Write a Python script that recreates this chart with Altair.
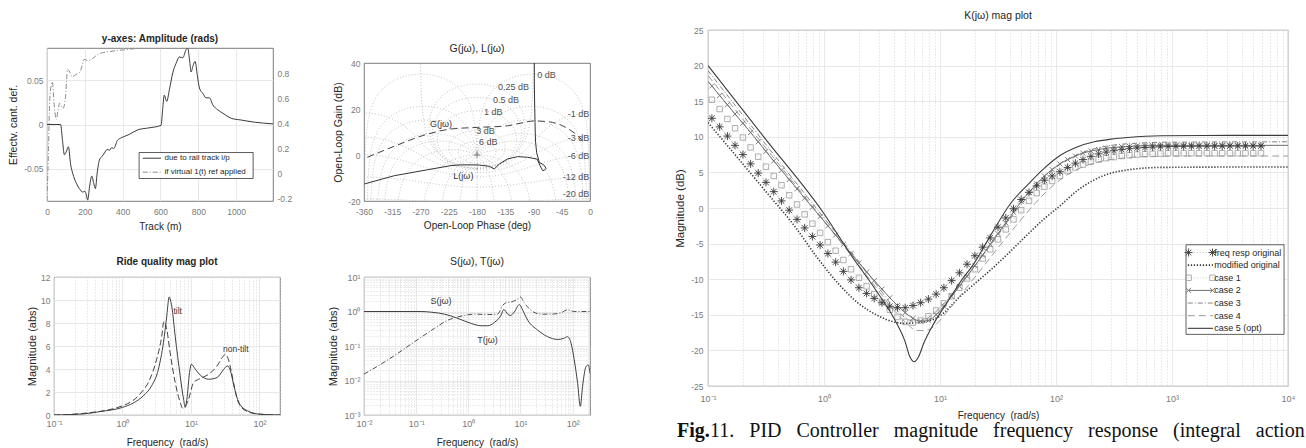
import altair as alt
import numpy as np
import pandas as pd

# ======================= DATA =======================
# -- Panel A: "y-axes: Amplitude (rads)" --
rail_track_m = [0, 72, 82, 92, 103, 113, 125, 136, 155, 171, 189, 200, 208, 215, 225, 237, 247, 256, 265, 277,
                290, 304, 318, 330, 342, 353, 372, 392, 414, 436, 480, 533, 603, 612, 620, 633, 647, 665, 683,
                700, 718, 735, 744, 755, 762, 772, 783, 795, 806, 824, 841, 859, 877, 903, 930, 974, 1027,
                1098, 1195]
rail_effect_cant = [0, 0, -0.018, -0.034, -0.030, -0.025, -0.045, -0.055, -0.066, -0.072, -0.076, -0.075, -0.079,
                    -0.085, -0.070, -0.058, -0.066, -0.072, -0.055, -0.040, -0.036, -0.032, -0.028, -0.029,
                    -0.026, -0.027, -0.018, -0.015, -0.013, -0.011, -0.006, -0.004, -0.001, 0.018, 0.033,
                    0.026, 0.039, 0.058, 0.069, 0.076, 0.075, 0.084, 0.086, 0.070, 0.059, 0.066, 0.071, 0.055,
                    0.041, 0.035, 0.030, 0.030, 0.022, 0.0165, 0.0127, 0.007, 0.005, 0.0026, 0.0007]
virtual_track_m = [0, 8, 14, 22, 28, 38, 49, 58, 67, 76, 85, 97, 104, 108, 120, 132, 145, 155, 170, 182, 196,
                   213, 235, 270, 323, 376, 464, 500, 1195]
virtual_ref_resp = [-0.22, 0.2, 0.57, 0.70, 0.73, 0.55, 0.43, 0.50, 0.56, 0.53, 0.52, 0.60, 0.75, 0.83, 0.81,
                    0.77, 0.78, 0.79, 0.80, 0.84, 0.91, 0.90, 0.91, 0.95, 0.97, 0.98, 0.995, 1.0, 1.0]
panelA_legend = ["due to rail track i/p", "if virtual 1(t) ref applied"]

# -- Panel B: Nichols "G(jω), L(jω)" --
L_phase_deg = [-88.7, -88.7, -87.6, -86.8, -85.0, -80.7, -73.7, -70.0, -72.5, -75.3, -79.6, -84.0, -99.2,
               -115.2, -131.1, -144.4, -152.4, -160.4, -178.9, -205.5, -221.4, -258.5, -311.7, -359.5]
L_gain_db = [45.0, 30.0, 14.2, 6.0, 1.0, -3.2, -4.3, -5.8, -6.6, -6.8, -4.6, -1.8, -1.0, -0.7, -1.7, -3.9,
             -6.1, -4.9, -4.3, -4.3, -4.6, -6.4, -9.0, -12.6]
G_phase_deg = [-354.6, -311.7, -258.5, -221.4, -178.9, -131.1, -109.9, -88.7, -67.5, -46.2, -30.3, -14.3, -9.1]
G_gain_db = [-1.0, 3.8, 9.1, 11.3, 12.0, 12.7, 13.9, 14.8, 14.5, 13.0, 10.6, 6.9, 4.8]
ngrid_mag_db = [6, 3, 1, 0.5, 0.25, 0, -1, -3, -6, -12, -20]
ngrid_cl_phase_deg = [1, 5, 10, 20, 30, 50, 90, 120, 150]
ngrid_label_text = ["0 dB", "0.25 dB", "0.5 dB", "1 dB", "3 dB", "6 dB",
                    "-1 dB", "-3 dB", "-6 dB", "-12 dB", "-20 dB"]
ngrid_label_phase = [-84, -97, -113, -139.5, -151.8, -147.5, -1, -1, -1, -1, -1]
ngrid_label_gain = [34.9, 29.5, 24.1, 18.9, 10.6, 5.6, 17.9, 7.3, -0.5, -9.7, -16.9]
nichols_curve_labels = ["G(jω)", "L(jω)"]
nichols_curve_label_phase = [-237.3, -201.7]
nichols_curve_label_gain = [13.6, -9.3]

# -- Panel C: "Ride quality mag plot" --
tilt_freq = [0.1, 0.264, 0.465, 1.0, 1.436, 2.014, 2.667, 3.35, 3.963, 4.436, 4.656, 4.797, 5.012, 5.248,
             5.888, 6.966, 7.798, 8.26, 8.73, 9.55, 10.12, 11.59, 13.71, 18.2, 24.1, 30.2, 33.9, 37.8, 42.4,
             50.1, 66.7, 104.7, 200]
tilt_mag = [0.0, 0.09, 0.29, 0.66, 1.04, 1.67, 2.54, 3.98, 6.29, 8.6, 9.8, 10.27, 10.0, 9.46, 6.86, 3.4,
            1.38, 0.66, 1.38, 3.69, 4.41, 3.98, 3.46, 3.11, 3.26, 3.98, 4.27, 3.84, 2.54, 1.1, 0.37, 0.06, 0.0]
nontilt_freq = [0.1, 0.264, 1.0, 1.80, 2.52, 3.16, 3.75, 4.03, 4.44, 4.97, 5.89, 6.97, 7.62, 8.36, 9.25,
                10.96, 13.7, 18.2, 24.1, 28.6, 32.0, 35.8, 40.1, 47.4, 59.6, 93.3, 200]
nontilt_mag = [0.0, 0.14, 0.8, 1.82, 3.12, 4.85, 6.86, 8.15, 7.44, 5.42, 2.83, 1.1, 0.58, 0.81, 1.38, 2.83,
               3.17, 3.55, 4.27, 4.99, 5.28, 4.7, 3.4, 1.38, 0.46, 0.09, 0.0]
ride_labels = ["tilt", "non-tilt"]
ride_label_freq = [5.56, 29.5]
ride_label_mag = [9.03, 5.77]

# -- Panel D: "S(jω), T(jω)" --
S_freq = [0.01, 0.125, 0.195, 0.349, 0.631, 1.132, 1.758, 2.355, 3.162, 4.236, 4.775, 5.689, 6.397, 7.638,
          9.528, 11.02, 13.74, 21.38, 33.11, 51.29, 67.14, 79.43, 93.3, 107.2, 124.5, 140.3, 154.9, 179.9,
          199.5, 215]
S_mag = [1.0, 1.0, 0.955, 0.838, 0.631, 0.451, 0.386, 0.386, 0.482, 0.783, 1.143, 0.838, 0.767, 0.977,
         1.585, 1.091, 0.562, 0.288, 0.186, 0.155, 0.166, 0.186, 0.120, 0.0398, 0.0083, 0.00178, 0.00676,
         0.0251, 0.0282, 0.0162]
T_freq = [0.01, 0.0288, 0.0933, 0.224, 0.407, 0.724, 1.309, 2.344, 3.631, 4.571, 5.248, 6.607, 8.222, 9.954,
          11.86, 15.85, 24.55, 38.02, 59.7, 79.4, 107.2, 215]
T_mag = [0.0153, 0.0398, 0.133, 0.324, 0.562, 0.733, 0.838, 0.818, 0.838, 1.514, 1.778, 1.905, 2.138, 2.63,
         1.778, 1.091, 0.838, 0.838, 0.916, 1.122, 1.0, 1.0]
ST_labels = ["S(jω)", "T(jω)"]
ST_label_freq = [0.30, 2.34]
ST_label_mag = [2.03, 0.149]

# -- Panel E: "K(jω) mag plot" --
marker_freq = [0.108, 0.126, 0.147, 0.171, 0.200, 0.233, 0.271, 0.316, 0.369, 0.430,
               0.501, 0.585, 0.681, 0.794, 0.926, 1.08, 1.26, 1.47, 1.71, 2.00,
               2.33, 2.71, 3.16, 3.69, 4.30, 5.01, 5.85, 6.81, 7.94, 9.26,
               10.8, 12.6, 14.7, 17.1, 20.0, 23.3, 27.1, 31.6, 36.9, 43.0,
               50.1, 58.5, 68.1, 79.4, 92.6, 108, 126, 147, 171, 200,
               233, 271, 316, 369, 430, 501, 585, 681, 794, 926,
               1080, 1260, 1470, 1710, 2000, 2330, 2710, 3160, 3690, 4300,
               5010, 5850]
orig_db = [12.6, 11.4, 10.1, 8.8, 7.5, 6.2, 4.9, 3.6, 2.3, 1.0,
           -0.3, -1.6, -2.8, -4.0, -5.2, -6.4, -7.6, -8.9, -10.1, -11.2,
           -12.0, -12.7, -13.3, -13.8, -14.0, -14.0, -13.7, -13.3, -12.8, -12.1,
           -11.2, -10.2, -9.1, -7.9, -6.7, -5.5, -4.2, -2.7, -1.4, -0.1,
           1.2, 2.2, 3.1, 3.9, 4.5, 5.1, 5.7, 6.3, 6.8, 7.25,
           7.6, 7.85, 8.05, 8.2, 8.33, 8.43, 8.5, 8.56, 8.6, 8.63,
           8.65, 8.66, 8.67, 8.68, 8.68, 8.69, 8.69, 8.7, 8.7, 8.7,
           8.7, 8.7]
case1_db = [15.2, 13.9, 12.5, 11.2, 9.9, 8.5, 7.2, 5.8, 4.5, 3.2,
            1.8, 0.5, -0.9, -2.2, -3.5, -4.8, -6.0, -7.3, -8.6, -9.8,
            -11.0, -12.1, -13.2, -14.3, -15.3, -16.0, -16.1, -15.8, -15.2, -14.4,
            -13.4, -12.4, -11.2, -9.9, -8.6, -7.1, -5.8, -4.4, -3.0, -1.6,
            -0.3, 1.0, 2.1, 3.0, 3.8, 4.5, 5.2, 5.7, 6.1, 6.5,
            6.8, 7.0, 7.15, 7.3, 7.4, 7.5, 7.55, 7.6, 7.65, 7.7,
            7.7, 7.7, 7.7, 7.7, 7.7, 7.7, 7.7, 7.7, 7.7, 7.7,
            7.7, 7.7]
case2_db = [17.15, 15.8, 14.5, 13.2, 11.9, 10.6, 9.3, 7.95, 6.6, 5.3,
            4.0, 2.7, 1.4, 0.1, -1.2, -2.5, -3.8, -5.1, -6.4, -7.7,
            -9.0, -10.2, -11.4, -12.6, -13.7, -14.7, -15.5, -15.9, -15.8, -15.0,
            -13.8, -12.4, -11.0, -9.6, -8.1, -6.6, -5.1, -3.6, -2.1, -0.6,
            0.9, 2.2, 3.4, 4.5, 5.4, 6.2, 6.8, 7.3, 7.7, 8.0,
            8.2, 8.4, 8.5, 8.6, 8.65, 8.7, 8.75, 8.75, 8.8, 8.8,
            8.8, 8.8, 8.8, 8.8, 8.8, 8.8, 8.8, 8.8, 8.8, 8.8,
            8.8, 8.8]
case2_edge_freq = [0.1, 10000]
case2_edge_db = [17.8, 8.8]
mod_freq = [0.1, 0.316, 0.555, 0.877, 1.31, 1.95, 2.9, 3.8, 4.9, 6.4, 8.9, 11.2, 14.1, 20, 28.2, 39.8, 56.2,
            79.4, 110, 154, 214, 298, 415, 575, 804, 3162, 10000]
mod_db = [12.0, 2.3, -2.5, -7.0, -10.5, -13.3, -15.1, -15.9, -16.2, -16.1, -15.6, -14.5, -12.8, -10.6, -8.5,
          -6.2, -3.8, -1.5, 0.4, 2.5, 3.95, 4.9, 5.35, 5.6, 5.7, 5.75, 5.75]
case3_freq = [0.1, 0.316, 1.0, 1.78, 2.82, 3.98, 5.25, 6.31, 7.94, 10, 14.1, 20, 28.2, 39.8, 56.2, 79.4, 112,
              158, 224, 316, 501, 1000, 10000]
case3_db = [19.3, 8.9, -1.4, -6.5, -10.7, -13.9, -15.6, -16.0, -15.4, -14.0, -11.2, -8.1, -4.9, -1.6, 1.5, 4.2,
            6.3, 7.6, 8.4, 8.85, 9.1, 9.25, 9.3]
case4_freq = [0.1, 0.316, 1.0, 1.78, 2.82, 3.98, 5.01, 6.31, 7.59, 8.91, 11.2, 15.8, 22.4, 31.6, 44.7, 63.1,
              89.1, 126, 178, 251, 398, 631, 1585, 10000]
case4_db = [18.6, 8.4, -1.8, -7.0, -11.2, -14.3, -16.0, -17.2, -17.2, -16.6, -14.8, -11.8, -8.7, -5.6, -2.6,
            0.3, 2.8, 4.7, 5.9, 6.6, 7.05, 7.25, 7.3, 7.3]
case5_freq = [0.1, 0.316, 1.0, 1.71, 2.9, 4.04, 5.01, 5.5, 6.0, 6.53, 7.24, 8.93, 11.7, 15.1, 19.8, 26.3, 40.9,
              57.0, 79.4, 110, 154, 214, 298, 415, 804, 3162, 10000]
case5_db = [20.0, 9.6, -0.8, -6.6, -11.9, -15.6, -18.8, -20.9, -21.6, -20.9, -19.0, -16.1, -13.1, -10.3, -7.7,
            -4.3, 0.7, 3.26, 5.6, 7.44, 8.6, 9.3, 9.67, 9.9, 10.14, 10.2, 10.2]
K_legend = ["freq resp original", "modified original", "case 1", "case 2", "case 3", "case 4", "case 5 (opt)"]

caption_bold = "Fig."
caption_rest = "11. PID Controller magnitude frequency response (integral action"

# ======================= STYLE / HELPERS =======================
FONT = "Liberation Sans"
SERIF = "Liberation Serif"
FRAME = "#5a5a5a"
GRID = "#e2e2e2"
MINOR = "#cdcdcd"
LBL = "#7a7a7a"
TXT = "#262626"
ASTER = "M-1,0L1,0M0,-1L0,1M-0.7,-0.7L0.7,0.7M-0.7,0.7L0.7,-0.7"
XMARK = "M-0.8,-0.8L0.8,0.8M-0.8,0.8L0.8,-0.8"
PLUS = "M-1,0L1,0M0,-1L0,1"

MAJOR = "abs(log(datum.value)/LN10 - round(log(datum.value)/LN10)) < 0.001"
SUPS = "['10\u207b\u00b3','10\u207b\u00b2','10\u207b\u00b9','10\u2070','10\u00b9','10\u00b2','10\u00b3','10\u2074']"
LOG_LABEL = MAJOR + " ? " + SUPS + "[round(log(datum.value)/LN10)+3] : ''"


def log_values(lo, hi):
    out = []
    e = int(np.floor(np.log10(lo) + 1e-9))
    while 10.0 ** e <= hi * 1.0001:
        for m in range(1, 10):
            v = float(f"{m * 10.0 ** e:.6g}")
            if lo * 0.9999 <= v <= hi * 1.0001:
                out.append(v)
        e += 1
    return out


def axis(values, title, orient, tpad=4, lpad=4, tsize=10, lsize=8.5, grid=True, log=False):
    kw = dict(values=values, orient=orient, grid=grid, domain=False, ticks=False,
              labelFont=FONT, labelFontSize=lsize, labelColor=LBL, labelPadding=lpad,
              labelOverlap=False, labelFlush=False, title=title, titlePadding=tpad,
              titleFont=FONT, titleFontSize=tsize, titleFontWeight="normal", titleColor=TXT)
    if log:
        kw["labelExpr"] = LOG_LABEL
        kw["gridColor"] = {"condition": {"test": MAJOR, "value": GRID}, "value": MINOR}
        kw["gridDash"] = {"condition": {"test": MAJOR, "value": []}, "value": [1, 2]}
    else:
        kw["labelExpr"] = "'' + datum.value"
        kw["gridColor"] = GRID
    kw["gridWidth"] = 0.8
    return alt.Axis(**kw)


def ptitle(text, gap, size=10.5, bold=False):
    # empirically the title centre sits ~10.7px above the frame at dy = 0
    return alt.TitleParams(text=text, font=FONT, fontSize=size, fontWeight="bold" if bold else "normal",
                           color=TXT, anchor="middle", frame="group", baseline="middle", offset=0,
                           dy=10.7 - gap)


def spacer(w, h, origin=False):
    base = alt.Chart(pd.DataFrame({"z": [0]}))
    if origin:
        ch = base.mark_rule(color="white", strokeWidth=1).encode(
            x=alt.value(-46), x2=alt.value(-45), y=alt.value(-29), y2=alt.value(-29))
    else:
        ch = base.mark_rule(opacity=0).encode(
            x=alt.value(0), x2=alt.value(0), y=alt.value(0), y2=alt.value(0))
    return ch.properties(width=w, height=h, view=alt.ViewBackground(stroke="transparent"))


def text_layer(df, x, y, align="center", size=9, color=TXT, font=FONT, weight="normal"):
    return alt.Chart(df).mark_text(align=align, baseline="middle", font=font, fontSize=size,
                                   color=color, fontWeight=weight).encode(x=x, y=y, text="t:N")


W_A, H_A = 226, 153
W_B, H_B = 226, 138
W_C, H_C = 226, 138
W_D, H_D = 226, 138
W_E, H_E = 580, 356

# ======================= PANEL A =======================
xA = alt.Scale(domain=[0, 1195], nice=False, zero=False)
yAl = alt.Scale(domain=[-0.086, 0.086], nice=False, zero=False)
yAr = alt.Scale(domain=[-0.22, 1.0], nice=False, zero=False)
XA = alt.X("m:Q", scale=xA, axis=axis([0, 200, 400, 600, 800, 1000], "Track (m)", "bottom", tpad=5.5, lpad=6))
YAl = alt.Y("v:Q", scale=yAl, axis=axis([-0.05, 0, 0.05], "Effectv. cant. def.", "left", tpad=4.8, lpad=4,
                                        tsize=10.5))
YAr = alt.Y("v:Q", scale=yAr, axis=axis([-0.2, 0, 0.2, 0.4, 0.6, 0.8], "", "right", lpad=4, grid=False))

a_rail = alt.Chart(pd.DataFrame({"m": rail_track_m, "v": rail_effect_cant})).mark_line(
    color="#3a3a3a", strokeWidth=1, interpolate="monotone", clip=True).encode(x=XA, y=YAl)
a_box = alt.Chart(pd.DataFrame({"m": [487], "m2": [1090], "v": [-0.0315], "v2": [-0.0607]})).mark_rect(
    fill="white", stroke="#333333", strokeWidth=0.8).encode(x=XA, x2="m2:Q", y=YAl, y2="v2:Q")
a_leg1 = alt.Chart(pd.DataFrame({"m": [506, 603], "v": [-0.0379, -0.0379]})).mark_line(
    color="#3a3a3a", strokeWidth=1).encode(x=XA, y=YAl)
a_leg2 = alt.Chart(pd.DataFrame({"m": [506, 603], "v": [-0.0536, -0.0536]})).mark_line(
    color="#8c8c8c", strokeWidth=1, strokeDash=[5, 2, 1, 2]).encode(x=XA, y=YAl)
a_txt = text_layer(pd.DataFrame({"m": [621, 621], "v": [-0.0379, -0.0536], "t": panelA_legend}),
                   XA, YAl, align="left", size=8)
a_virtual = alt.Chart(pd.DataFrame({"m": virtual_track_m, "v": virtual_ref_resp})).mark_line(
    color="#8c8c8c", strokeWidth=1, strokeDash=[5, 2, 1, 2], interpolate="monotone", clip=True).encode(x=XA, y=YAr)
panelA = alt.layer(alt.layer(a_rail, a_box, a_leg1, a_leg2, a_txt), a_virtual).resolve_scale(
    y="independent").properties(width=W_A, height=H_A, title=ptitle("y-axes: Amplitude (rads)", 9.3, 10, True))


# ======================= PANEL B (Nichols) =======================
def nichols_grid_frame():
    rows = []
    seg = [0]

    def add(G):
        with np.errstate(divide="ignore", invalid="ignore"):
            ph = np.degrees(np.angle(G))
            gn = 20 * np.log10(np.abs(G))
        ph = np.where(ph > 0, ph - 360.0, ph)
        ok = np.isfinite(gn) & (gn > -30) & (gn < 48)
        prev = None
        for p, g, k in zip(ph, gn, ok):
            if not k:
                prev = None
                continue
            if prev is None or abs(p - prev) > 90:
                seg[0] += 1
            rows.append((seg[0], len(rows), round(float(p), 2), round(float(g), 2)))
            prev = p

    alpha = np.linspace(-np.pi, np.pi, 540)
    for mdb in ngrid_mag_db:
        M = 10 ** (mdb / 20.0)
        T = M * np.exp(1j * alpha)
        add(T / (1 - T))
    Ms = np.concatenate([np.logspace(-2, -0.35, 90), np.linspace(0.45, 2.2, 520), np.logspace(0.35, 3.5, 90)])
    for a in ngrid_cl_phase_deg:
        for s in (1, -1):
            T = Ms * np.exp(1j * np.radians(s * a))
            add(T / (1 - T))
    T = -Ms
    add(T / (1 - T))
    return pd.DataFrame(rows, columns=["seg", "i", "phase", "gain"])


xB = alt.Scale(domain=[-360, 0], nice=False, zero=False)
yB = alt.Scale(domain=[-20, 40], nice=False, zero=False)
XB = alt.X("phase:Q", scale=xB, axis=axis(list(range(-360, 1, 45)), "Open-Loop Phase (deg)", "bottom",
                                          tpad=4.5, lpad=6, grid=False))
YB = alt.Y("gain:Q", scale=yB, axis=axis([-20, 0, 20, 40], "Open-Loop Gain (dB)", "left",
                                         tpad=4.5, lpad=4, grid=False, tsize=10.5))

b_grid = alt.Chart(nichols_grid_frame()).mark_line(color="#b3b3b3", strokeWidth=0.8, strokeDash=[1, 2],
                                                   clip=True).encode(x=XB, y=YB, detail="seg:N", order="i:Q")
b_G = alt.Chart(pd.DataFrame({"phase": G_phase_deg, "gain": G_gain_db, "i": list(range(len(G_phase_deg)))})).mark_line(
    color="#444444", strokeWidth=1, strokeDash=[7, 4], clip=True, interpolate="monotone").encode(x=XB, y=YB, order="i:Q")
b_L = alt.Chart(pd.DataFrame({"phase": L_phase_deg, "gain": L_gain_db, "i": list(range(len(L_phase_deg)))})).mark_line(
    color="#333333", strokeWidth=1, clip=True).encode(x=XB, y=YB, order="i:Q")
b_plus = alt.Chart(pd.DataFrame({"phase": [-180], "gain": [0]})).mark_point(
    shape=PLUS, size=50, filled=False, color="#555555", strokeWidth=0.9).encode(x=XB, y=YB)
lab_df = pd.DataFrame({"phase": ngrid_label_phase, "gain": ngrid_label_gain, "t": ngrid_label_text})
b_lab_l = text_layer(lab_df.iloc[:1], XB, YB, align="left", size=9, color="#505050")
b_lab_r = text_layer(lab_df.iloc[1:], XB, YB, align="right", size=9, color="#505050")
b_curve_lab = text_layer(pd.DataFrame({"phase": nichols_curve_label_phase, "gain": nichols_curve_label_gain,
                                       "t": nichols_curve_labels}), XB, YB, size=9, color="#333333")
panelB = alt.layer(b_grid, b_G, b_L, b_plus, b_lab_l, b_lab_r, b_curve_lab).properties(
    width=W_B, height=H_B, title=ptitle("G(jω), L(jω)", 10, 10.5))

# ======================= PANEL C (Ride quality) =======================
xC = alt.Scale(type="log", domain=[0.1, 200], nice=False)
yC = alt.Scale(domain=[0, 12], nice=False, zero=False)
XC = alt.X("f:Q", scale=xC, axis=axis(log_values(0.1, 200), "Frequency\u00a0 (rad/s)", "bottom",
                                      tpad=9, lpad=4, lsize=9, log=True))
YC = alt.Y("a:Q", scale=yC, axis=axis([0, 2, 4, 6, 8, 10, 12], "Magnitude (abs)", "left",
                                      tpad=2.6, lpad=4, tsize=11))
c_tilt = alt.Chart(pd.DataFrame({"f": tilt_freq, "a": tilt_mag})).mark_line(
    color="#404040", strokeWidth=1, interpolate="monotone", clip=True).encode(x=XC, y=YC)
c_non = alt.Chart(pd.DataFrame({"f": nontilt_freq, "a": nontilt_mag})).mark_line(
    color="#404040", strokeWidth=1, strokeDash=[6, 3], interpolate="monotone", clip=True).encode(x=XC, y=YC)
c_lab = text_layer(pd.DataFrame({"f": ride_label_freq, "a": ride_label_mag, "t": ride_labels}),
                   XC, YC, align="left", size=8.5, color="#333333")
panelC = alt.layer(c_tilt, c_non, c_lab).properties(
    width=W_C, height=H_C, title=ptitle("Ride quality mag plot", 12, 10, True))

# ======================= PANEL D (S, T) =======================
xD = alt.Scale(type="log", domain=[0.01, 215], nice=False)
yD = alt.Scale(type="log", domain=[0.001, 10], nice=False)
XD = alt.X("f:Q", scale=xD, axis=axis(log_values(0.01, 215), "Frequency\u00a0 (rad/s)", "bottom",
                                      tpad=9, lpad=4, lsize=9, log=True))
YD = alt.Y("a:Q", scale=yD, axis=axis(log_values(0.001, 10), "Magnitude (abs)", "left",
                                      tpad=5, lpad=4, tsize=11, lsize=9, log=True))
d_S = alt.Chart(pd.DataFrame({"f": S_freq, "a": S_mag})).mark_line(
    color="#404040", strokeWidth=1, interpolate="monotone", clip=True).encode(x=XD, y=YD)
d_T = alt.Chart(pd.DataFrame({"f": T_freq, "a": T_mag})).mark_line(
    color="#505050", strokeWidth=1, strokeDash=[5, 2, 1, 2], interpolate="monotone", clip=True).encode(x=XD, y=YD)
d_lab = text_layer(pd.DataFrame({"f": ST_label_freq, "a": ST_label_mag, "t": ST_labels}),
                   XD, YD, size=9, color="#333333")
panelD = alt.layer(d_S, d_T, d_lab).properties(width=W_D, height=H_D, title=ptitle("S(jω), T(jω)", 11.5, 10.5))

# ======================= PANEL E (K) =======================
xE = alt.Scale(type="log", domain=[0.1, 10000], nice=False)
yE = alt.Scale(domain=[-25, 25], nice=False, zero=False)
XE = alt.X("f:Q", scale=xE, axis=axis(log_values(0.1, 10000), "Frequency\u00a0 (rad/s)", "bottom",
                                      tpad=7, lpad=8, lsize=9, log=True))
YE = alt.Y("db:Q", scale=yE, axis=axis(list(range(-25, 26, 5)), "Magnitude (dB)", "left",
                                       tpad=5, lpad=5, tsize=11.5))

# series styles: (line color, dash, width, marker shape, marker color, marker size)
E_styles = [
    ("#a0a0a0", [1, 2], 0.7, ASTER, "#3a3a3a", 64),
    ("#3a3a3a", [1.3, 1.7], 1.6, None, None, None),
    ("#b8b8b8", [1, 2], 0.7, "square", "#a6a6a6", 30),
    ("#6e6e6e", None, 1.0, XMARK, "#707070", 40),
    ("#858585", [5, 2, 1, 2], 1.0, None, None, None),
    ("#9a9a9a", [7, 4], 1.0, None, None, None),
    ("#3c3c3c", None, 1.1, None, None, None),
]


def e_line(freq, db, style):
    color, dash, width = style[0], style[1], style[2]
    kw = dict(color=color, strokeWidth=width, interpolate="monotone", clip=True)
    if dash:
        kw["strokeDash"] = dash
    return alt.Chart(pd.DataFrame({"f": freq, "db": db})).mark_line(**kw).encode(x=XE, y=YE)


def e_marks(freq, db, style, clip=True):
    return alt.Chart(pd.DataFrame({"f": freq, "db": db})).mark_point(
        shape=style[3], size=style[5], filled=False, color=style[4], strokeWidth=0.9, opacity=1,
        clip=clip).encode(x=XE, y=YE)


e_layers = [
    e_line(mod_freq, mod_db, E_styles[1]),
    e_line(marker_freq, orig_db, E_styles[0]),
    e_line(marker_freq, case1_db, E_styles[2]),
    e_marks(marker_freq, case1_db, E_styles[2]),
    e_line(case4_freq, case4_db, E_styles[5]),
    e_line(case3_freq, case3_db, E_styles[4]),
    e_line(case2_edge_freq[:1] + marker_freq + case2_edge_freq[1:],
           case2_edge_db[:1] + case2_db + case2_edge_db[1:], E_styles[3]),
    e_marks(marker_freq, case2_db, E_styles[3]),
    e_marks(marker_freq, orig_db, E_styles[0]),
    e_line(case5_freq, case5_db, E_styles[6]),
]

# legend (placed in data coordinates of the panel)
leg_top, leg_step = -6.25, 1.775
leg_rows = [leg_top - i * leg_step for i in range(len(K_legend))]
e_layers.append(alt.Chart(pd.DataFrame({"f": [1321], "f2": [9247], "db": [-5.16], "db2": [-17.75]})).mark_rect(
    fill="white", stroke="#3a3a3a", strokeWidth=0.8).encode(x=XE, x2="f2:Q", y=YE, y2="db2:Q"))
for i, st in enumerate(E_styles):
    e_layers.append(e_line([1368, 2253], [leg_rows[i]] * 2, st))
    if st[3] is not None:
        e_layers.append(e_marks([1390, 2235], [leg_rows[i]] * 2, st, clip=False))
e_layers.append(text_layer(pd.DataFrame({"f": [2317] * len(K_legend), "db": leg_rows, "t": K_legend}),
                           XE, YE, align="left", size=9, color=TXT))

# caption
e_layers.append(alt.Chart(pd.DataFrame({"t": [caption_bold]})).mark_text(
    align="left", baseline="alphabetic", font=SERIF, fontSize=20, fontWeight="bold", color="#111111").encode(
    text="t:N", x=alt.value(-31), y=alt.value(407)))
e_layers.append(alt.Chart(pd.DataFrame({"t": [caption_rest.replace(" ", " \u00a0\u00a0")]})).mark_text(
    align="left", baseline="alphabetic", font=SERIF, fontSize=20, color="#111111").encode(
    text="t:N", x=alt.value(2), y=alt.value(407)))

panelE = alt.layer(*e_layers).properties(width=W_E, height=H_E, title=ptitle("K(jω) mag plot", 10.5, 10.5))

# ======================= LAYOUT =======================
# with bounds="flush" a nested concat counts as zero-size, so the spacing carries the full offset
left_col = alt.vconcat(
    spacer(1, 18, origin=True),
    alt.vconcat(panelA, alt.hconcat(spacer(7, 1), panelC, spacing=0, bounds="flush"), spacing=76, bounds="flush"),
    spacing=0, bounds="flush")
mid_col = alt.vconcat(
    spacer(1, 33),
    alt.vconcat(panelB, panelD, spacing=76, bounds="flush"),
    spacing=0, bounds="flush")
inner = alt.hconcat(left_col, mid_col, spacing=317, bounds="flush")
chart = alt.hconcat(inner, panelE, spacing=661, bounds="flush").properties(padding=0).configure(
    background="white", font=FONT, view=alt.ViewConfig(stroke=FRAME, strokeWidth=0.8))

chart.save("out.html", embed_options={"renderer": "svg", "actions": False})
